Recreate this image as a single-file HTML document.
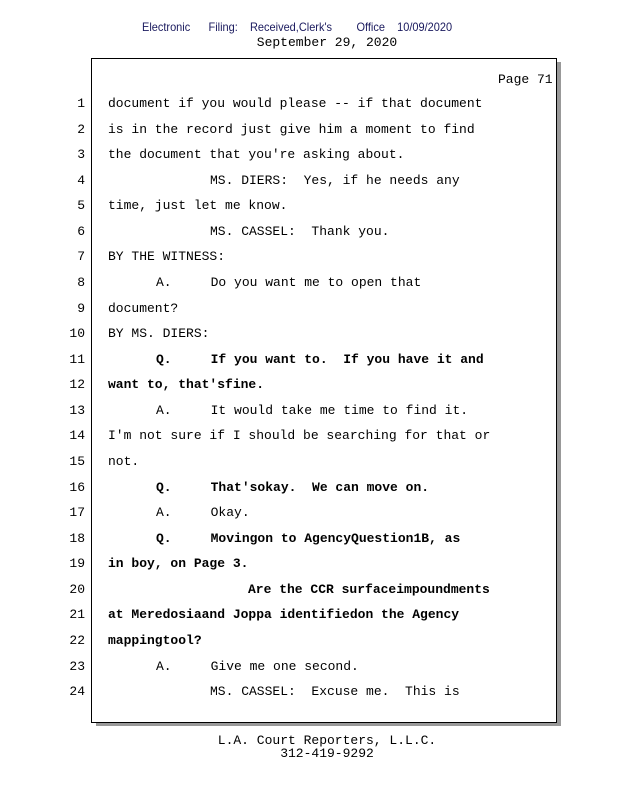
<!DOCTYPE html>
<html><head><meta charset="utf-8"><style>
body{margin:0;width:618px;height:800px;background:#fff;position:relative;overflow:hidden;font-family:"Liberation Mono",monospace;}
.hdr{position:absolute;top:20px;left:142px;font:12px "Liberation Sans",sans-serif;color:#1a1a5e;white-space:pre;transform:scaleX(0.915);transform-origin:left;}
.c{position:absolute;left:18px;width:618px;text-align:center;font-size:13px;white-space:pre;color:#000;}
.shadow{position:absolute;left:96px;top:62px;width:465px;height:664px;background:#999;}
.box{position:absolute;left:91px;top:58px;width:464px;height:663px;border:1px solid #000;background:#fff;}
.n{position:absolute;left:60px;width:25px;text-align:right;font-size:13px;}
.t{position:absolute;font-size:13px;white-space:pre;}
.b{font-weight:bold;}
</style></head><body>
<div class="hdr">Electronic      Filing:    Received,Clerk's        Office    10/09/2020</div>
<div class="c" style="top:35px;">September 29, 2020</div>
<div class="shadow"></div>
<div class="box"></div>
<div class="t" style="left:498px;top:72px;">Page 71</div>
<div id="lines"></div>
<div class="c" style="top:733px;">L.A. Court Reporters, L.L.C.</div>
<div class="c" style="top:746px;">312-419-9292</div>
<script>
var L=[
[108,"document if you would please -- if that document",0],
[108,"is in the record just give him a moment to find",0],
[108,"the document that you're asking about.",0],
[210,"MS. DIERS:  Yes, if he needs any",0],
[108,"time, just let me know.",0],
[210,"MS. CASSEL:  Thank you.",0],
[108,"BY THE WITNESS:",0],
[156,"A.     Do you want me to open that",0],
[108,"document?",0],
[108,"BY MS. DIERS:",0],
[156,"Q.     If you want to.  If you have it and",1],
[108,"want to, that'sfine.",1],
[156,"A.     It would take me time to find it.",0],
[108,"I'm not sure if I should be searching for that or",0],
[108,"not.",0],
[156,"Q.     That'sokay.  We can move on.",1],
[156,"A.     Okay.",0],
[156,"Q.     Movingon to AgencyQuestion1B, as",1],
[108,"in boy, on Page 3.",1],
[248,"Are the CCR surfaceimpoundments",1],
[108,"at Meredosiaand Joppa identifiedon the Agency",1],
[108,"mappingtool?",1],
[156,"A.     Give me one second.",0],
[210,"MS. CASSEL:  Excuse me.  This is",0]];
var h="";
for(var i=0;i<24;i++){var y=Math.round(96+i*25.57);
h+='<div class="n" style="top:'+y+'px">'+(i+1)+'</div>';
var s=L[i][1].replace(/&/g,"&amp;").replace(/</g,"&lt;");
h+='<div class="t'+(L[i][2]?' b':'')+'" style="left:'+L[i][0]+'px;top:'+y+'px">'+s+'</div>';}
document.getElementById("lines").innerHTML=h;
</script>
</body></html>
